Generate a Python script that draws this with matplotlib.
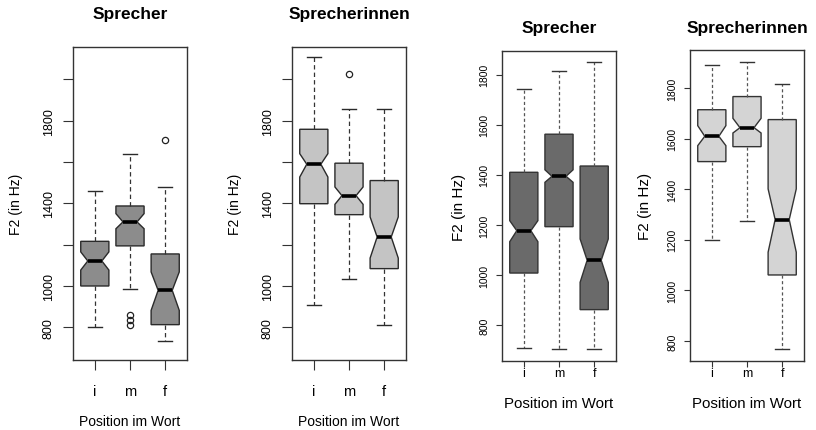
import matplotlib
matplotlib.use("Agg")
import matplotlib.pyplot as plt

plt.rcParams['font.family'] = ['Liberation Sans', 'DejaVu Sans']

W, H = 816, 431
positions = ["i", "m", "f"]
xlabel = "Position im Wort"
ylabel = "F2 (in Hz)"

# Panel 1: Sprecher (left pair)
p1_whislo = [803, 984, 732]
p1_q1 = [1000, 1194, 813]
p1_med = [1121, 1310, 979]
p1_q3 = [1216, 1387, 1155]
p1_whishi = [1460, 1637, 1477]
p1_cilo = [1077, 1277, 882]
p1_cihi = [1165, 1350, 1068]
p1_fliers = [[], [860, 835, 812], [1704]]

# Panel 2: Sprecherinnen (left pair)
p2_whislo = [910, 1035, 813]
p2_q1 = [1398, 1345, 1084]
p2_med = [1589, 1437, 1237]
p2_q3 = [1758, 1594, 1510]
p2_whishi = [2106, 1858, 1858]
p2_cilo = [1527, 1395, 1135]
p2_cihi = [1640, 1479, 1334]
p2_fliers = [[], [2023], []]

# Panel 3: Sprecher (right pair)
p3_whislo = [708, 703, 703]
p3_q1 = [1008, 1193, 862]
p3_med = [1177, 1394, 1059]
p3_q3 = [1410, 1562, 1435]
p3_whishi = [1741, 1815, 1849]
p3_cilo = [1133, 1370, 971]
p3_cihi = [1217, 1420, 1144]
p3_fliers = [[], [], []]

# Panel 4: Sprecherinnen (right pair)
p4_whislo = [1201, 1274, 767]
p4_q1 = [1509, 1568, 1061]
p4_med = [1609, 1643, 1280]
p4_q3 = [1714, 1766, 1675]
p4_whishi = [1892, 1903, 1817]
p4_cilo = [1572, 1622, 1151]
p4_cihi = [1651, 1680, 1401]
p4_fliers = [[], [], []]


def stats(wl, q1, med, q3, wh, lo, hi, fl):
    out = []
    for k in range(len(positions)):
        out.append(dict(whislo=wl[k], q1=q1[k], med=med[k], q3=q3[k],
                        whishi=wh[k], cilo=lo[k], cihi=hi[k], fliers=fl[k]))
    return out


fig = plt.figure(figsize=(W / 100, H / 100), dpi=100)


def px_axes(x0, y0, x1, y1):
    return fig.add_axes([x0 / W, 1 - y1 / H, (x1 - x0) / W, (y1 - y0) / H])


def draw(box, st, fill, edge, whisk, ylim, yticks, ylabels, title,
         tick_fs, tick_len, tick_pad, xtick_pad, title_y, ylab_x, xlab_y,
         ylab_fs, xlab_fs, dash):
    x0, y0, x1, y1 = box
    ax = px_axes(x0, y0, x1, y1)
    ax.bxp(st, positions=[1, 2, 3], widths=0.8, shownotches=True,
           patch_artist=True,
           boxprops=dict(facecolor=fill, edgecolor=edge, linewidth=1.0),
           medianprops=dict(color="black", linewidth=2.6, solid_capstyle="butt"),
           whiskerprops=dict(color=whisk, linewidth=0.9, linestyle=dash),
           capprops=dict(color=edge, linewidth=1.0),
           flierprops=dict(marker="o", markersize=4.5, markerfacecolor="none",
                           markeredgecolor="#222222", markeredgewidth=0.9))
    ax.set_xlim(0.38, 3.62)
    ax.set_ylim(*ylim)
    ax.set_xticks([1, 2, 3])
    ax.set_xticklabels(positions, fontsize=tick_fs + 1.5)
    ax.set_yticks(yticks)
    ax.set_yticklabels(ylabels, rotation=90, va="center", fontsize=tick_fs)
    ax.tick_params(axis="y", length=tick_len, pad=tick_pad, color="#333333")
    ax.tick_params(axis="x", length=tick_len, pad=xtick_pad, color="#333333")
    for s in ax.spines.values():
        s.set_color("#333333")
        s.set_linewidth(1.0)
    cx = (x0 + x1) / 2
    fig.text(cx / W, 1 - title_y / H, title, ha="center", va="center",
             fontsize=12.5, fontweight="bold")
    fig.text(ylab_x / W, 1 - (y0 + y1) / 2 / H, ylabel, ha="center",
             va="center", rotation=90, fontsize=ylab_fs)
    fig.text(cx / W, 1 - xlab_y / H, xlabel, ha="center", va="center",
             fontsize=xlab_fs)
    return ax


left_ticks = [800, 1000, 1200, 1400, 1600, 1800, 2000]
left_labels = ["800", "1000", "", "1400", "", "1800", ""]
right_ticks = [800, 1000, 1200, 1400, 1600, 1800]
right_labels = [str(t) for t in right_ticks]

draw((73, 48, 187, 361), stats(p1_whislo, p1_q1, p1_med, p1_q3, p1_whishi,
                               p1_cilo, p1_cihi, p1_fliers),
     "#8c8c8c", "#2a2a2a", "#333333", (642, 2156), left_ticks, left_labels,
     "Sprecher", 9, 7, 6, 10, 15, 16, 422, 10, 10, (0, (3.5, 2.5)))

draw((292, 48, 406, 361), stats(p2_whislo, p2_q1, p2_med, p2_q3, p2_whishi,
                                p2_cilo, p2_cihi, p2_fliers),
     "#c4c4c4", "#2a2a2a", "#333333", (642, 2156), left_ticks, left_labels,
     "Sprecherinnen", 9, 7, 6, 10, 15, 235, 422, 10, 10, (0, (3.5, 2.5)))

draw((502, 52, 616, 362), stats(p3_whislo, p3_q1, p3_med, p3_q3, p3_whishi,
                                p3_cilo, p3_cihi, p3_fliers),
     "#6a6a6a", "#333333", "#555555", (657, 1894), right_ticks, right_labels,
     "Sprecher", 7.5, 4, 5, 0, 29, 459, 404, 11, 10.8, (0, (2.5, 2)))

draw((690, 51, 804, 362), stats(p4_whislo, p4_q1, p4_med, p4_q3, p4_whishi,
                                p4_cilo, p4_cihi, p4_fliers),
     "#d4d4d4", "#333333", "#555555", (721, 1950), right_ticks, right_labels,
     "Sprecherinnen", 7.5, 4, 5, 0, 29, 645, 404, 11, 10.8, (0, (2.5, 2)))

fig.savefig("out.png", dpi=100, facecolor="white")
